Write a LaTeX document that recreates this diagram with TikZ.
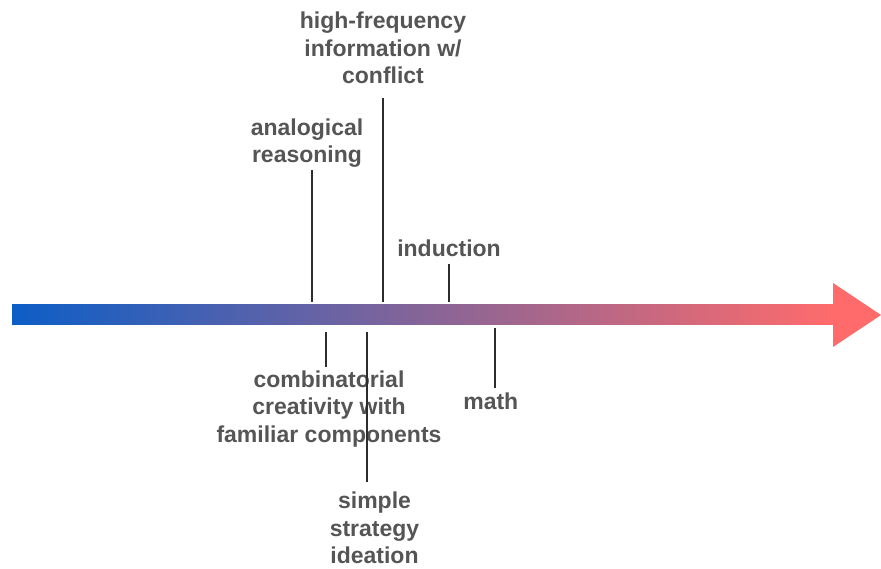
\documentclass[tikz,border=0pt]{standalone}
\usepackage{fontspec}
\setmainfont{Liberation Sans}
\begin{document}
\definecolor{startblue}{RGB}{12,94,198}
\definecolor{endsalmon}{RGB}{255,107,107}
\definecolor{labelgray}{RGB}{85,85,85}
\definecolor{tickgray}{RGB}{45,45,45}
\tikzset{
  lbl/.style={text=labelgray, align=center, inner sep=0pt,
    font=\fontsize{23}{27.5}\selectfont\bfseries},
  tick/.style={draw=tickgray, line width=1.4pt}
}
\begin{tikzpicture}[x=1pt, y=-1pt]
  \useasboundingbox (0,0) rectangle (881,569);

  % gradient shaft and solid head of the arrow
  \shade[left color=startblue, right color=endsalmon]
    (12,305) rectangle (834,325);
  \fill[endsalmon] (833,283) -- (881,315) -- (833,347) -- cycle;

  % labels above the axis
  \node[lbl] (hf)   at (383,47.8)  {high-frequency\\information w/\\conflict};
  \node[lbl] (ana)  at (307,143)   {analogical\\reasoning};
  \node[lbl] (ind)  at (449,248.7) {induction};

  % labels below the axis
  \node[lbl] (comb) at (329,409)   {combinatorial\\creativity with\\familiar components};
  \node[lbl] (math) at (490.8,401) {math};
  \node[lbl] (simp) at (374.5,528) {simple\\strategy\\ideation};

  % tick end points
  \coordinate (hf-a)   at (383,98);   \coordinate (hf-b)   at (383,302);
  \coordinate (ana-a)  at (312,170);  \coordinate (ana-b)  at (312,302);
  \coordinate (ind-a)  at (449,264);  \coordinate (ind-b)  at (449,302);
  \coordinate (comb-a) at (326,332);  \coordinate (comb-b) at (326,367);
  \coordinate (math-a) at (495,328);  \coordinate (math-b) at (495,388);
  \coordinate (simp-a) at (367,332);  \coordinate (simp-b) at (367,482);

  \draw[tick] (hf-a) -- (hf-b);
  \draw[tick] (ana-a) -- (ana-b);
  \draw[tick] (ind-a) -- (ind-b);
  \draw[tick] (comb-a) -- (comb-b);
  \draw[tick] (math-a) -- (math-b);
  \draw[tick] (simp-a) -- (simp-b);
\end{tikzpicture}
\end{document}
